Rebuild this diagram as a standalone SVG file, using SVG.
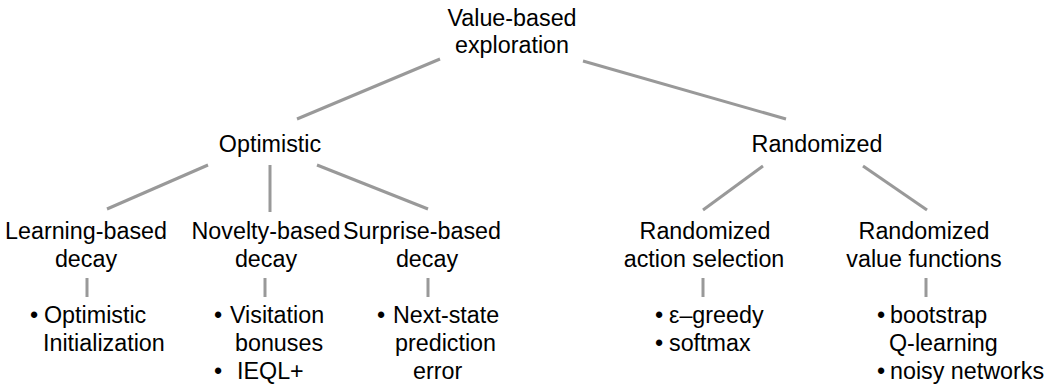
<svg xmlns="http://www.w3.org/2000/svg" width="1048" height="388" viewBox="0 0 1048 388">
<style>
text{font-family:"Liberation Sans",Arial,sans-serif;font-size:23.3px;fill:#000}
.c{text-anchor:middle}
.ln{stroke:#999;stroke-width:3;stroke-linecap:butt;fill:none}
</style>
<rect width="1048" height="388" fill="#fff"/>
<g id="connectors">
<line class="ln" x1="440" y1="59" x2="297" y2="119"/>
<line class="ln" x1="583" y1="61" x2="786" y2="119"/>
<line class="ln" x1="208" y1="165" x2="107" y2="209"/>
<line class="ln" x1="270" y1="165" x2="270" y2="212"/>
<line class="ln" x1="317" y1="165" x2="428" y2="209"/>
<line class="ln" x1="763" y1="166" x2="703" y2="210"/>
<line class="ln" x1="863" y1="166" x2="927" y2="210"/>
<line class="ln" x1="87" y1="278" x2="87" y2="297"/>
<line class="ln" x1="265" y1="278" x2="265" y2="297"/>
<line class="ln" x1="428" y1="278" x2="428" y2="297"/>
<line class="ln" x1="703" y1="278" x2="703" y2="297"/>
<line class="ln" x1="926" y1="278" x2="926" y2="297"/>
</g>
<g id="root"><text class="c" x="512" y="26">Value-based</text><text class="c" x="512" y="53">exploration</text></g>
<g id="optimistic"><text class="c" x="270" y="152">Optimistic</text></g>
<g id="randomized"><text class="c" x="817" y="152">Randomized</text></g>
<g id="learning"><text class="c" x="86" y="239">Learning-based</text><text class="c" x="86" y="267">decay</text></g>
<g id="novelty"><text class="c" x="266" y="239">Novelty-based</text><text class="c" x="266" y="267">decay</text></g>
<g id="surprise"><text class="c" x="422" y="239">Surprise-based</text><text class="c" x="427" y="267">decay</text></g>
<g id="rand-action"><text class="c" x="705" y="239">Randomized</text><text class="c" x="704" y="267">action selection</text></g>
<g id="rand-value"><text class="c" x="924" y="239">Randomized</text><text class="c" x="924" y="267">value functions</text></g>
<g id="learning-items"><text x="30" y="323">•</text><text x="44" y="323">Optimistic</text><text x="43" y="351">Initialization</text></g>
<g id="novelty-items"><text x="214" y="323">•</text><text x="230" y="323">Visitation</text><text x="235" y="351">bonuses</text><text x="214" y="379">•</text><text x="237" y="379">IEQL+</text></g>
<g id="surprise-items"><text x="377" y="323">•</text><text x="393" y="323">Next-state</text><text x="395" y="351">prediction</text><text x="413" y="379">error</text></g>
<g id="action-items"><text x="655" y="323">•</text><text x="669" y="323">ε–greedy</text><text x="655" y="351">•</text><text x="669" y="351">softmax</text></g>
<g id="value-items"><text x="877" y="323">•</text><text x="890" y="323">bootstrap</text><text x="889" y="351">Q-learning</text><text x="877" y="379">•</text><text x="890" y="379">noisy networks</text></g>
</svg>
